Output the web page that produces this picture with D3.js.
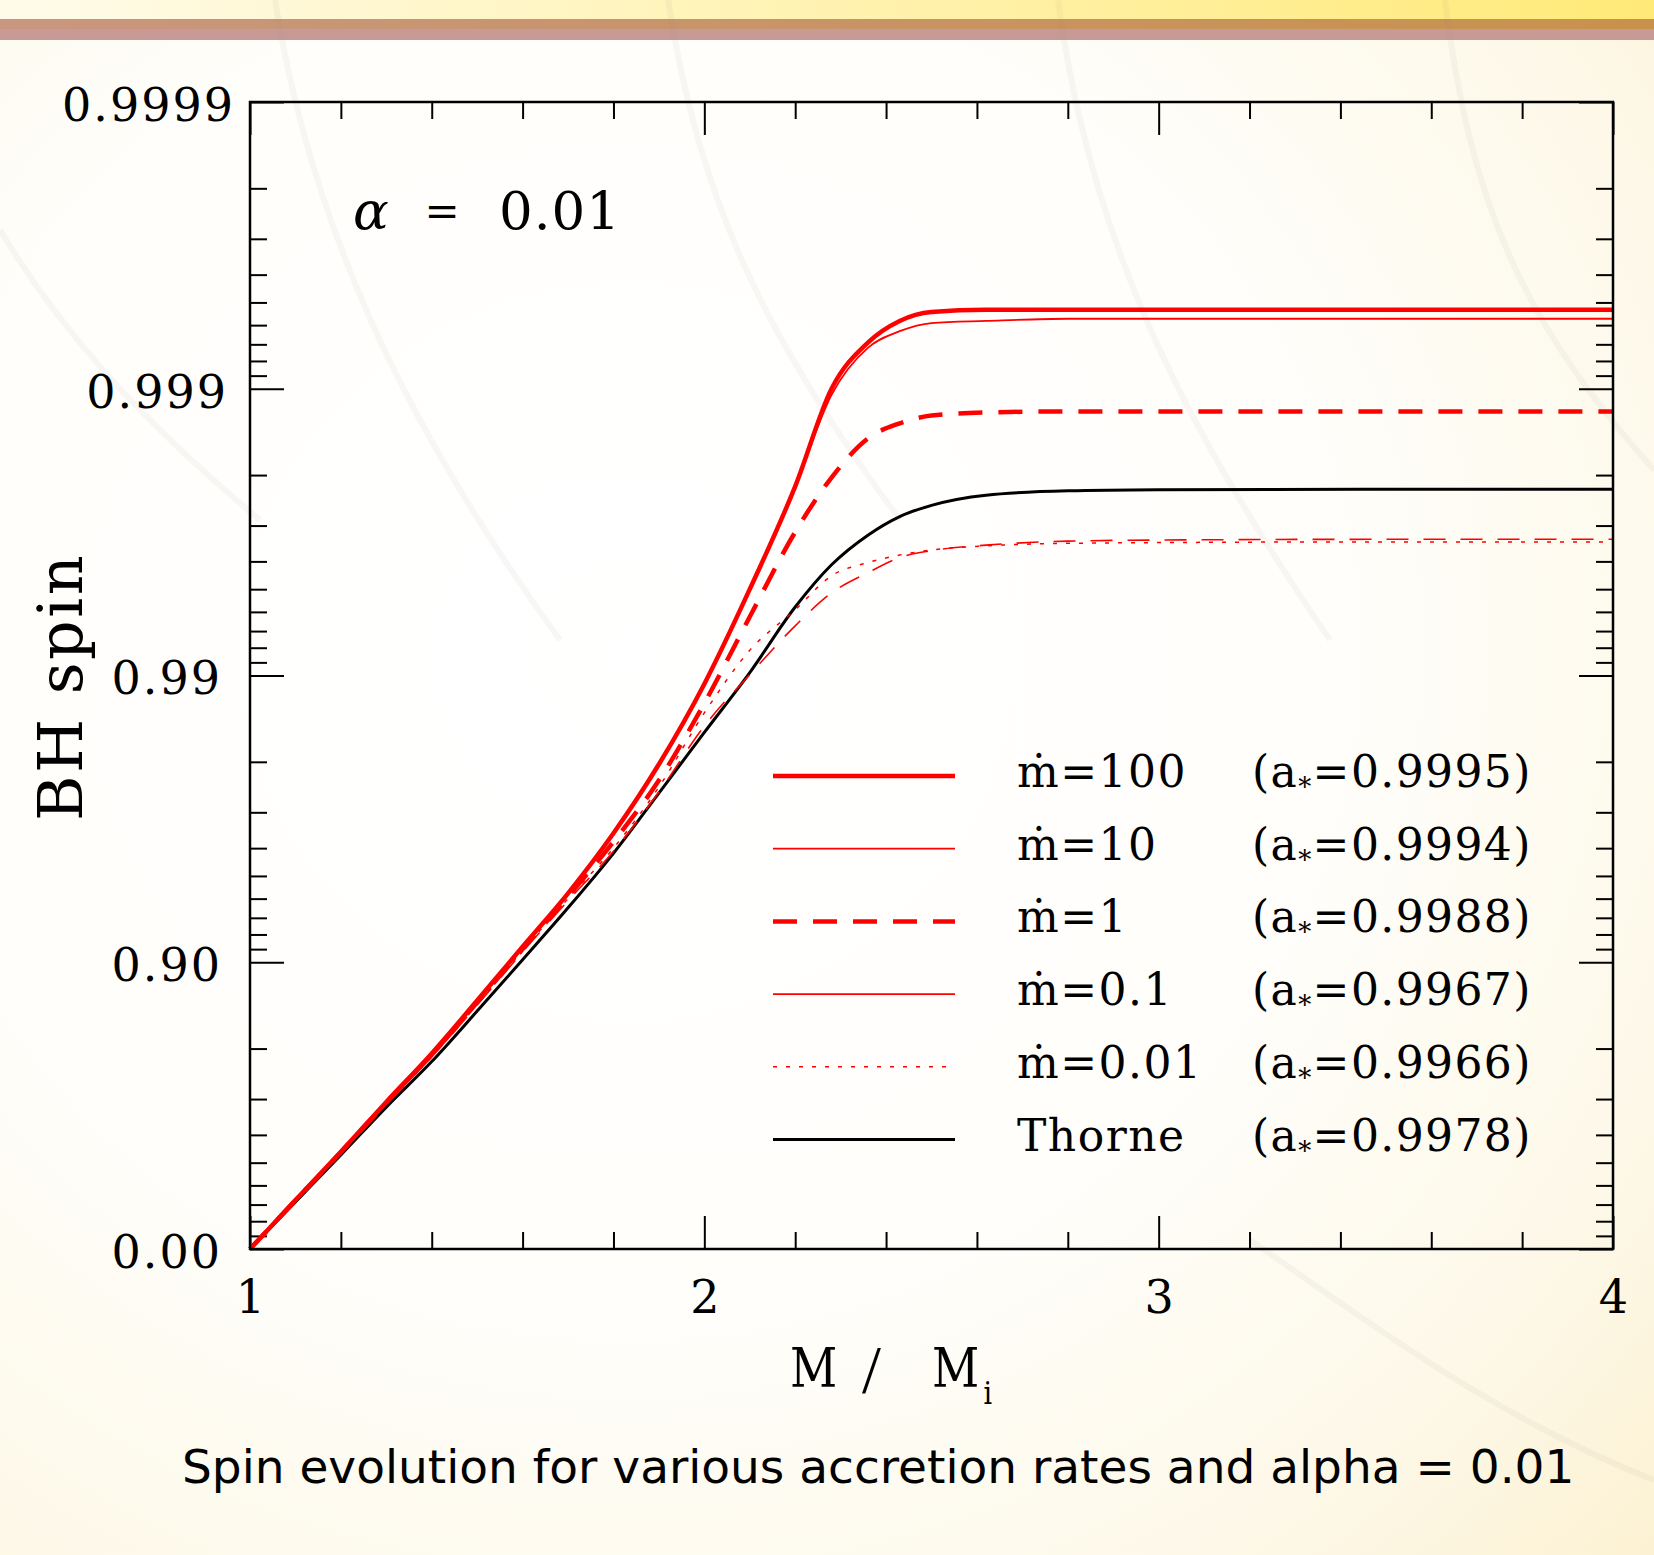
<!DOCTYPE html>
<html>
<head>
<meta charset="utf-8">
<style>
  body { margin: 0; background: #fffdf6; }
  svg { display: block; }
  .serif { font-family: "DejaVu Serif", serif; }
</style>
</head>
<body>
<div id="chart"></div>
<script src="https://d3js.org/d3.v7.min.js"></script>
<script>
// M / M_i grid shared by all curves
const mass = [1.0, 1.1, 1.2, 1.3, 1.4, 1.5, 1.6, 1.7, 1.8, 1.9, 2.0, 2.1, 2.2, 2.28, 2.36, 2.43, 2.5, 2.62, 2.8, 3.0, 3.5, 4.0];

// BH spin
const spinM100   = [0, 0.325, 0.542, 0.693, 0.792, 0.864, 0.9117, 0.9425, 0.9645, 0.9796, 0.9893, 0.9950, 0.99781, 0.9990, 0.99931, 0.99942, 0.99946, 0.99947, 0.99947, 0.99947, 0.99947, 0.99947];
const spinM10    = [0, 0.325, 0.542, 0.693, 0.792, 0.864, 0.9117, 0.9425, 0.9645, 0.9796, 0.9893, 0.9950, 0.99781, 0.99895, 0.99928, 0.99937, 0.99941, 0.99942, 0.99943, 0.99943, 0.99943, 0.99943];
const spinM1     = [0, 0.323, 0.540, 0.691, 0.790, 0.862, 0.910, 0.941, 0.962, 0.9768, 0.9875, 0.99376, 0.99684, 0.99796, 0.99851, 0.99868, 0.99876, 0.99879, 0.9988, 0.9988, 0.9988, 0.9988];
const spinM01    = [0, 0.320, 0.537, 0.688, 0.786, 0.859, 0.908, 0.939, 0.959, 0.9745, 0.9850, 0.99007, 0.99329, 0.99485, 0.99562, 0.99612, 0.99633, 0.99649, 0.9966, 0.99663, 0.99665, 0.99665];
const spinM001   = [0, 0.321, 0.538, 0.689, 0.787, 0.860, 0.909, 0.940, 0.960, 0.9755, 0.9865, 0.99183, 0.9941, 0.99551, 0.99596, 0.9962, 0.99635, 0.99647, 0.99654, 0.99656, 0.99658, 0.99658];
const spinThorne = [0, 0.315, 0.530, 0.680, 0.778, 0.852, 0.902, 0.9354, 0.9583, 0.9743, 0.9842, 0.99023, 0.99423, 0.99589, 0.99676, 0.99721, 0.99745, 0.99765, 0.99773, 0.99775, 0.99776, 0.99776];

const legendNames = ["\u1E41=100", "\u1E41=10", "\u1E41=1", "\u1E41=0.1", "\u1E41=0.01", "Thorne"];
const legendSpins = ["0.9995", "0.9994", "0.9988", "0.9967", "0.9966", "0.9978"];

const xTicks = [1, 2, 3, 4];
const yTickSpins = [0, 0.9, 0.99, 0.999, 0.9999];
const yTickLabels = ["0.00", "0.90", "0.99", "0.999", "0.9999"];
const yLabelShift = [-6, -6, -6, 0, 7];

// styles (legend order)
const series = [spinM100, spinM10, spinM1, spinM01, spinM001, spinThorne];
const colors = ["#ff0000", "#ff0000", "#ff0000", "#ff0000", "#ff0000", "#000000"];
const widths = [4.5, 1.8, 4.5, 1.6, 1.5, 3];
const plotDash = [null, null, "24,16", "22,15", "4,9", null];
const legendDash = [null, null, "24,16", null, "4,9", null];

const width = 1654, height = 1555;
const L = 250, R = 1613, T = 102, B = 1249;

const x = d3.scaleLinear().domain([1, 4]).range([L, R]);
// y is log of (1 - spin)
const y = d3.scaleLog().domain([1, 1e-4]).range([B, T]);

const svg = d3.select("#chart").append("svg")
    .attr("width", width).attr("height", height)
    .attr("viewBox", [0, 0, width, height]);

const defs = svg.append("defs");
const bg = defs.append("radialGradient").attr("id", "bg")
    .attr("cx", "38%").attr("cy", "42%").attr("r", "85%");
bg.append("stop").attr("offset", "0").attr("stop-color", "#ffffff");
bg.append("stop").attr("offset", "0.5").attr("stop-color", "#fffefb");
bg.append("stop").attr("offset", "0.8").attr("stop-color", "#fdf8e8");
bg.append("stop").attr("offset", "1").attr("stop-color", "#fcf1d2");
const topg = defs.append("linearGradient").attr("id", "topg");
topg.append("stop").attr("offset", "0").attr("stop-color", "#fffbea");
topg.append("stop").attr("offset", "1").attr("stop-color", "#ffea78");
const band = defs.append("linearGradient").attr("id", "band");
band.append("stop").attr("offset", "0").attr("stop-color", "#c99680");
band.append("stop").attr("offset", "1").attr("stop-color", "#c8924c");

svg.append("rect").attr("width", width).attr("height", height).attr("fill", "url(#bg)");
svg.append("rect").attr("width", width).attr("height", 19).attr("fill", "url(#topg)");
svg.append("rect").attr("y", 19).attr("width", width).attr("height", 10).attr("fill", "url(#band)");
svg.append("rect").attr("y", 29).attr("width", width).attr("height", 11).attr("fill", "#c79a95");

// faint brush strokes in the backdrop
const strokes = [
  "M275,0 C310,220 400,420 560,640",
  "M668,0 C700,200 760,330 900,520",
  "M1058,0 C1090,240 1180,420 1330,640",
  "M1445,0 C1470,200 1520,320 1654,470",
  "M0,230 C60,330 140,420 260,520",
  "M1250,1240 C1380,1330 1500,1420 1654,1480"
];
svg.append("g").attr("fill", "none").attr("stroke", "#8a8a7a")
    .attr("stroke-opacity", 0.07).attr("stroke-width", 6)
  .selectAll("path").data(strokes).join("path").attr("d", d => d);

// minor tick values on the log axis
const minorY = [];
for (let e = 1; e <= 4; e++) for (let k = 2; k <= 9; k++) minorY.push(k * Math.pow(10, -e));
const minorX = d3.range(1.2, 4, 0.2).filter(v => Math.abs(v - Math.round(v)) > 0.01);

function clean(g) {
  g.select(".domain").remove();
  g.selectAll(".tick line").attr("stroke-width", 2);
}

svg.append("g").attr("transform", `translate(${L},0)`)
    .call(d3.axisLeft(y).tickValues(minorY).tickSize(-17).tickFormat("")).call(clean);
svg.append("g").attr("transform", `translate(${R},0)`)
    .call(d3.axisRight(y).tickValues(minorY).tickSize(-17).tickFormat("")).call(clean);
svg.append("g").attr("transform", `translate(${R},0)`)
    .call(d3.axisRight(y).tickValues(yTickSpins.map(s => 1 - s)).tickSize(-34).tickFormat("")).call(clean);
svg.append("g").attr("transform", `translate(${L},0)`)
    .call(d3.axisLeft(y).tickValues(yTickSpins.map(s => 1 - s)).tickSize(-34).tickPadding(22)
      .tickFormat((d, i) => yTickLabels[i]))
    .call(clean)
    .attr("font-family", "DejaVu Serif").attr("font-size", 46)
    .call(g => g.selectAll("text").attr("letter-spacing", 2).attr("dy", "0.4em")
      .attr("dx", (d, i) => yLabelShift[i]));

svg.append("g").attr("transform", `translate(0,${B})`)
    .call(d3.axisBottom(x).tickValues(minorX).tickSize(-17).tickFormat("")).call(clean);
svg.append("g").attr("transform", `translate(0,${T})`)
    .call(d3.axisTop(x).tickValues(minorX).tickSize(-17).tickFormat("")).call(clean);
svg.append("g").attr("transform", `translate(0,${T})`)
    .call(d3.axisTop(x).tickValues(xTicks).tickSize(-33).tickFormat("")).call(clean);
svg.append("g").attr("transform", `translate(0,${B})`)
    .call(d3.axisBottom(x).tickValues(xTicks).tickSize(-33).tickPadding(31).tickFormat(d3.format("d")))
    .call(clean)
    .attr("font-family", "DejaVu Serif").attr("font-size", 46);

// curves
const line = d3.line()
    .x((d, i) => x(mass[i]))
    .y(d => y(Math.max(1 - d, 1e-4)))
    .curve(d3.curveMonotoneX);

const drawOrder = [5, 4, 3, 2, 1, 0];
svg.append("g").attr("fill", "none")
  .selectAll("path").data(drawOrder).join("path")
    .attr("d", i => line(series[i]))
    .attr("stroke", i => colors[i])
    .attr("stroke-width", i => widths[i])
    .attr("stroke-dasharray", i => plotDash[i]);

// frame
svg.append("rect").attr("x", L).attr("y", T).attr("width", R - L).attr("height", B - T)
    .attr("fill", "none").attr("stroke", "#000").attr("stroke-width", 2.5);

// legend
const rowY = d3.range(6).map(i => 776 + i * 72.7);
const lg = svg.append("g");
lg.selectAll("line").data(d3.range(6)).join("line")
    .attr("x1", 773).attr("x2", 955)
    .attr("y1", i => rowY[i]).attr("y2", i => rowY[i])
    .attr("stroke", i => colors[i])
    .attr("stroke-width", i => widths[i])
    .attr("stroke-dasharray", i => legendDash[i]);
lg.selectAll("text.name").data(d3.range(6)).join("text")
    .attr("class", "name serif")
    .attr("x", 1017).attr("y", i => rowY[i] + 11)
    .attr("font-size", 44).attr("letter-spacing", 1.5)
    .text(i => legendNames[i]);
const val = lg.selectAll("text.val").data(d3.range(6)).join("text")
    .attr("class", "val serif")
    .attr("x", 1252).attr("y", i => rowY[i] + 11)
    .attr("font-size", 44).attr("letter-spacing", 1.4);
val.append("tspan").text("(a");
val.append("tspan").attr("font-size", 26).attr("dy", 9).text("*");
val.append("tspan").attr("dy", -9).text(i => "=" + legendSpins[i] + ")");

// alpha annotation
svg.append("text").attr("class", "serif").attr("x", 353).attr("y", 229)
    .attr("font-size", 53).attr("font-style", "italic").text("\u03B1");
svg.append("text").attr("class", "serif").attr("x", 442).attr("y", 226)
    .attr("font-size", 42).attr("text-anchor", "middle").text("=");
svg.append("text").attr("class", "serif").attr("x", 499).attr("y", 229)
    .attr("font-size", 53).attr("letter-spacing", 1).text("0.01");

// axis titles
svg.append("text").attr("class", "serif")
    .attr("transform", "translate(82,687) rotate(-90)")
    .attr("text-anchor", "middle").attr("font-size", 62).attr("letter-spacing", 2.5)
    .text("BH spin");
svg.append("text").attr("class", "serif")
    .attr("transform", "translate(790,1387) scale(0.84,1)")
    .attr("font-size", 55).text("M");
svg.append("text").attr("x", 862).attr("y", 1392)
    .attr("font-family", "Liberation Serif").attr("font-size", 68).text("/");
const mi = svg.append("text").attr("class", "serif")
    .attr("transform", "translate(932,1387) scale(0.84,1)")
    .attr("font-size", 55).text("M");
mi.append("tspan").attr("font-size", 32).attr("dx", 5).attr("dy", 17).text("i");

// caption
svg.append("text").attr("x", 182).attr("y", 1483)
    .attr("font-family", "DejaVu Sans").attr("font-size", 47)
    .text("Spin evolution for various accretion rates and alpha = 0.01");
</script>
</body>
</html>
